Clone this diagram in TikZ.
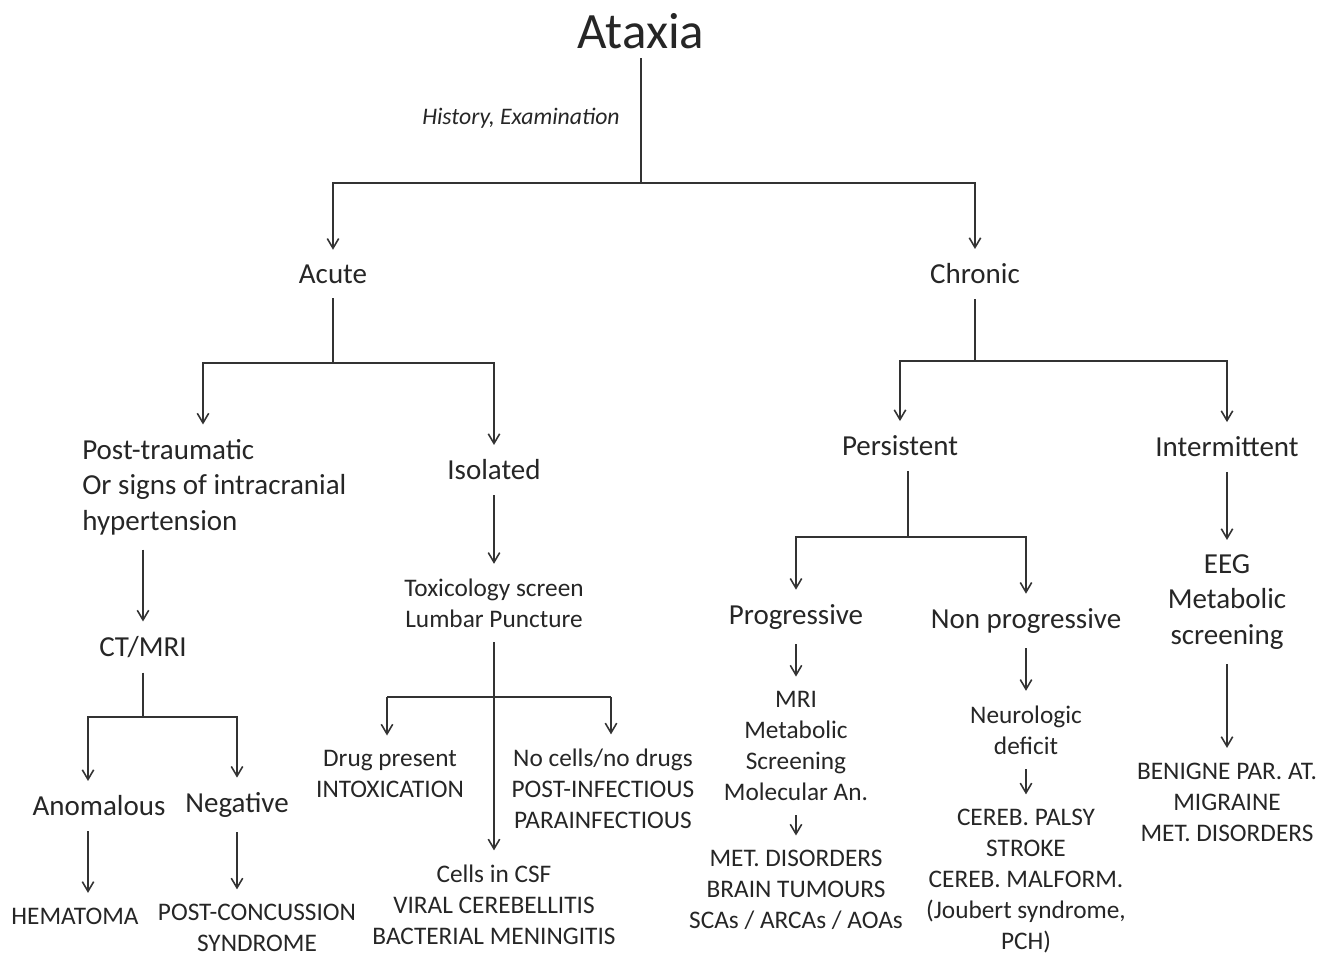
\documentclass[tikz,border=0pt]{standalone}
\usepackage{fontspec}
\setmainfont{Carlito}
\usetikzlibrary{arrows.meta,positioning,calc}

\begin{document}
\begin{tikzpicture}[>={Straight Barb[length=5.5pt,width=6.5pt]}, line width=0.9pt, color=black!80, x=0.02cm, y=-0.02cm,
  title/.style={text=black!85, inner sep=5pt, font=\fontsize{29}{35}\selectfont},
  hint/.style={text=black!85, inner sep=2pt, font=\fontsize{13.5}{16}\selectfont\itshape},
  big/.style={text=black!85, inner xsep=2pt, inner ysep=8pt, align=center, font=\fontsize{16.5}{20.1}\selectfont},
  small/.style={text=black!85, inner xsep=2pt, inner ysep=8pt, align=center, font=\fontsize{14.4}{17.6}\selectfont}]
  \useasboundingbox (0,0) rectangle (1330,958);
  \node[title] (ataxia) at (641,31) {Ataxia};
  \node[hint] (hist) at (521,118) {History, Examination};
  \coordinate (j1) at (641,183);
  \node[big] (acute) at (333,274) {Acute};
  \node[big] (chronic) at (975,274) {Chronic};
  % acute branch
  \coordinate (j2) at (333,363);
  \coordinate (j2l) at (203,363);
  \node[big, align=left, anchor=west] (trauma) at (78,487) {Post-traumatic\\Or signs of intracranial\\hypertension};
  \node[big] (isol) at (494,470) {Isolated};
  \node[small] (tox) at (494,603) {Toxicology screen\\Lumbar Puncture};
  \node[big] (ctmri) at (143,647) {CT/MRI};
  \coordinate (j3) at (143,717);
  \coordinate (j3l) at (88,717);
  \node[big] (anom) at (99,806) {Anomalous};
  \node[big] (neg) at (237,805) {Negative};
  \node[small] (hema) at (75,916) {HEMATOMA};
  \node[small] (pcs) at (257,928) {POST-CONCUSSION\\SYNDROME};
  \coordinate (j4l) at (387,697);
  \coordinate (j4r) at (611,697);
  \node[small] (drug) at (390,774) {Drug present\\INTOXICATION};
  \node[small] (nocell) at (603,789) {No cells/no drugs\\POST-INFECTIOUS\\PARAINFECTIOUS};
  \node[small] (csf) at (494,905) {Cells in CSF\\VIRAL CEREBELLITIS\\BACTERIAL MENINGITIS};
  % chronic branch
  \coordinate (j5) at (975,361);
  \node[big] (pers) at (900,446) {Persistent};
  \node[big] (inter) at (1227,447) {Intermittent};
  \coordinate (j6) at (908,537);
  \node[big] (prog) at (796,617) {Progressive};
  \node[big] (nonprog) at (1026,621) {Non progressive};
  \node[small] (mri) at (796,746) {MRI\\Metabolic\\Screening\\Molecular An.};
  \node[small] (metd) at (796,890) {MET. DISORDERS\\BRAIN TUMOURS\\SCAs / ARCAs / AOAs};
  \node[small] (neuro) at (1026,730) {Neurologic\\deficit};
  \node[small] (cereb) at (1026,881) {CEREB. PALSY\\STROKE\\CEREB. MALFORM.\\(Joubert syndrome,\\PCH)};
  \node[big] (eeg) at (1227,602) {EEG\\Metabolic\\screening};
  \node[small] (benign) at (1227,802) {BENIGNE PAR. AT.\\MIGRAINE\\MET. DISORDERS};
  % connectors
  \draw (ataxia) -- (j1);
  \draw[->] (j1) -| (acute);
  \draw[->] (j1) -| (chronic);
  \draw (acute) -- (j2);
  \draw[->] (j2) -| (isol);
  \draw[->] (j2) -- (j2l) -- (j2l |- trauma.north);
  \draw[->] (isol) -- (tox);
  \draw[->] (trauma.south -| ctmri) -- (ctmri);
  \draw (ctmri) -- (j3);
  \draw[->] (j3) -- (j3l) -- (j3l |- anom.north);
  \draw[->] (j3) -| (neg);
  \draw[->] (anom.south -| j3l) -- (j3l |- hema.north);
  \draw[->] (neg) -- (neg |- pcs.north);
  \draw[->] (tox) -- (csf);
  \draw (j4l) -- (j4r);
  \draw[->] (j4l) -- (j4l |- drug.north);
  \draw[->] (j4r) -- (j4r |- nocell.north);
  \draw (chronic) -- (j5);
  \draw[->] (j5) -| (pers);
  \draw[->] (j5) -| (inter);
  \draw (pers.south -| j6) -- (j6);
  \draw[->] (j6) -| (prog);
  \draw[->] (j6) -| (nonprog);
  \draw[->] (prog) -- (mri);
  \draw[->] (mri) -- (metd);
  \draw[->] (nonprog) -- (neuro);
  \draw[->] (neuro) -- (cereb);
  \draw[->] (inter) -- (eeg);
  \draw[->] (eeg) -- (benign);
\end{tikzpicture}
\end{document}
